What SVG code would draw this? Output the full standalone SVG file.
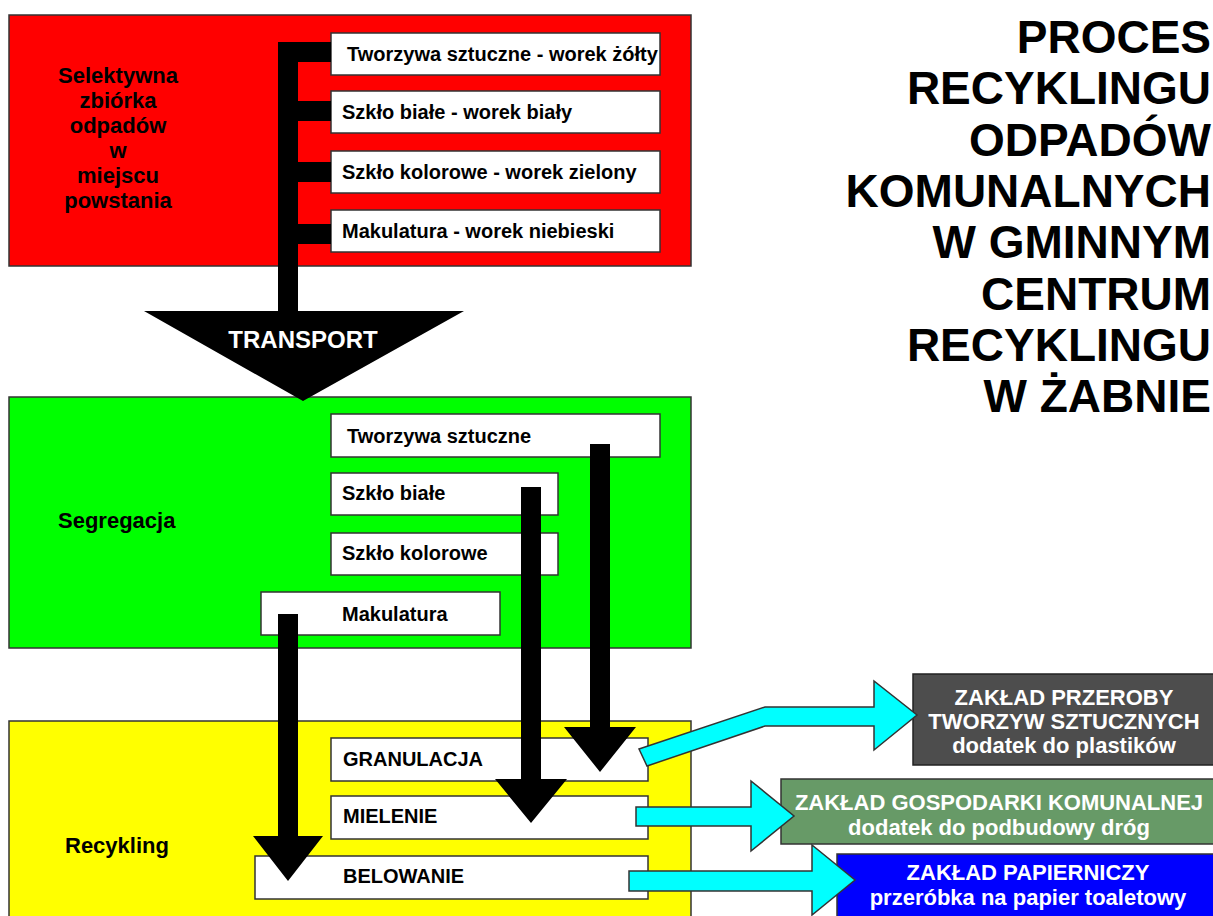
<svg xmlns="http://www.w3.org/2000/svg" width="1213" height="916" viewBox="0 0 1213 916">
<style>
text{font-family:"Liberation Sans",Arial,sans-serif;font-weight:bold}
.stage{stroke:#333;stroke-width:1.5}
.box{fill:#fff;stroke:#333;stroke-width:1.5}
.lbl{font-size:20px;fill:#000}
.stg{font-size:22px;fill:#000}
.dst{font-size:22px;fill:#fff;text-anchor:middle}
.title{font-size:46px;fill:#000;text-anchor:end}
.blk{fill:#000}
.cy{fill:#00ffff;stroke:#333;stroke-width:1.5;stroke-linejoin:miter}
</style>
<rect width="1213" height="916" fill="#fff"/>

<g id="title">
<text class="title" x="1211" y="53">PROCES</text>
<text class="title" x="1211" y="104">RECYKLINGU</text>
<text class="title" x="1211" y="156">ODPADÓW</text>
<text class="title" x="1211" y="207">KOMUNALNYCH</text>
<text class="title" x="1211" y="258">W GMINNYM</text>
<text class="title" x="1211" y="310">CENTRUM</text>
<text class="title" x="1211" y="361">RECYKLINGU</text>
<text class="title" x="1211" y="412">W ŻABNIE</text>
</g>

<g id="stage-collection">
<rect class="stage" x="9" y="15" width="682" height="251" fill="#ff0000"/>
<text class="stg" text-anchor="middle" x="118" y="83">Selektywna</text>
<text class="stg" text-anchor="middle" x="118" y="108">zbiórka</text>
<text class="stg" text-anchor="middle" x="118" y="133">odpadów</text>
<text class="stg" text-anchor="middle" x="118" y="158">w</text>
<text class="stg" text-anchor="middle" x="118" y="183">miejscu</text>
<text class="stg" text-anchor="middle" x="118" y="208">powstania</text>
</g>
<g id="bag-plastic"><rect class="box" x="331" y="33" width="329" height="42"/><text class="lbl" x="347" y="61">Tworzywa sztuczne - worek żółty</text></g>
<g id="bag-white-glass"><rect class="box" x="331" y="91" width="329" height="42"/><text class="lbl" x="342" y="119">Szkło białe - worek biały</text></g>
<g id="bag-colour-glass"><rect class="box" x="331" y="151" width="329" height="42"/><text class="lbl" x="342" y="179">Szkło kolorowe - worek zielony</text></g>
<g id="bag-paper"><rect class="box" x="331" y="210" width="329" height="42"/><text class="lbl" x="342" y="238">Makulatura - worek niebieski</text></g>

<g id="stage-segregation">
<rect class="stage" x="9" y="397" width="682" height="251" fill="#00ff00"/>
<text class="stg" x="58" y="528">Segregacja</text>
</g>
<g id="seg-plastic"><rect class="box" x="331" y="414" width="329" height="43"/><text class="lbl" x="347" y="443">Tworzywa sztuczne</text></g>
<g id="seg-white-glass"><rect class="box" x="331" y="473" width="227" height="42"/><text class="lbl" x="342" y="500">Szkło białe</text></g>
<g id="seg-colour-glass"><rect class="box" x="331" y="533" width="227" height="42"/><text class="lbl" x="342" y="560">Szkło kolorowe</text></g>
<g id="seg-paper"><rect class="box" x="261" y="592" width="239" height="43"/><text class="lbl" x="342" y="621">Makulatura</text></g>

<g id="stage-recycling">
<rect class="stage" x="9" y="721" width="682" height="200" fill="#ffff00"/>
<text class="stg" x="65" y="853">Recykling</text>
</g>
<g id="granulation"><rect class="box" x="331" y="738" width="317" height="43"/><text class="lbl" x="343" y="766">GRANULACJA</text></g>
<g id="grinding"><rect class="box" x="331" y="796" width="317" height="43"/><text class="lbl" x="343" y="823">MIELENIE</text></g>
<g id="baling"><rect class="box" x="255" y="856" width="393" height="43"/><text class="lbl" x="343" y="883">BELOWANIE</text></g>

<g id="plant-plastics">
<rect x="913" y="674" width="310" height="91" fill="#4d4d4d" stroke="#222" stroke-width="1.5"/>
<text class="dst" x="1064" y="705">ZAKŁAD PRZEROBY</text>
<text class="dst" x="1064" y="729">TWORZYW SZTUCZNYCH</text>
<text class="dst" x="1064" y="753">dodatek do plastików</text>
</g>
<g id="plant-communal">
<rect x="781" y="779" width="442" height="65" fill="#679a67" stroke="#333" stroke-width="1.5"/>
<text class="dst" x="999" y="810" font-size="22.5">ZAKŁAD GOSPODARKI KOMUNALNEJ</text>
<text class="dst" x="999" y="835">dodatek do podbudowy dróg</text>
</g>
<g id="plant-paper">
<rect x="837" y="854" width="386" height="70" fill="#0000ff" stroke="#333" stroke-width="1.5"/>
<text class="dst" x="1028" y="880">ZAKŁAD PAPIERNICZY</text>
<text class="dst" x="1028" y="905">przeróbka na papier toaletowy</text>
</g>

<g id="connectors">
<path class="blk" d="M278,42 H331 V62 H298 V101 H331 V121 H298 V162 H331 V182 H298 V224 H331 V244 H298 V311 H464 L303,401 L144,311 H278 Z"/>
<text x="303" y="348" font-size="24" fill="#fff" text-anchor="middle">TRANSPORT</text>
<path class="blk" d="M590,444 H610 V727 H636 L600,772 L564,727 H590 Z"/>
<path class="blk" d="M521,487 H541 V779 H567 L531,823 L495,779 H521 Z"/>
<path class="blk" d="M278,614 H298 V836 H323 L288,881 L253,836 H278 Z"/>
<path class="cy" d="M639,749 L765,707 H874 V681 L917,715 L874,750 V726 H765 L647,766 Z"/>
<path class="cy" d="M636,807 H751 V781 L794,816 L751,851 V826 H636 Z"/>
<path class="cy" d="M629,871 H812 V845 L855,880 L812,915 V891 H629 Z"/>
</g>
</svg>
